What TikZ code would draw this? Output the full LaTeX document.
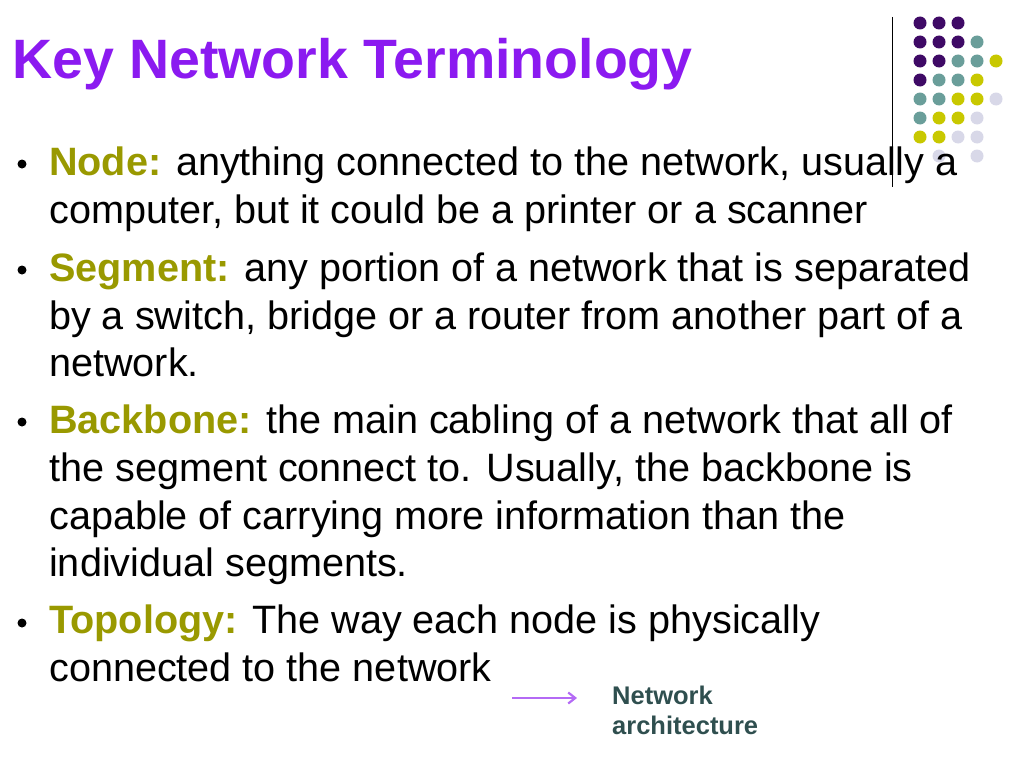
\documentclass[tikz,border=0pt]{standalone}
\usepackage{fontspec}
\setmainfont{Liberation Sans}
\usetikzlibrary{arrows.meta}
\definecolor{titlepurple}{HTML}{8B1AF0}
\definecolor{termolive}{HTML}{999900}
\definecolor{dotP}{HTML}{3F0A66}
\definecolor{dotT}{HTML}{6A9E9A}
\definecolor{dotY}{HTML}{C8C800}
\definecolor{dotL}{HTML}{D8D8E8}
\definecolor{notegray}{HTML}{2F4F4F}
\tikzset{
  body/.style={anchor=base west, inner sep=0pt, font=\fontsize{39.6}{44}\selectfont},
  bullet/.style={circle, fill=black, inner sep=0pt, minimum size=9pt},
  note/.style={anchor=base west, inner sep=0pt, text=notegray, font=\bfseries\fontsize{25.5}{30}\selectfont}
}
\newcommand\trm[1]{\textcolor{termolive}{\bfseries #1}}
\begin{document}
\begin{tikzpicture}[x=1pt,y=-1pt]
\useasboundingbox (0,0) rectangle (1024,768);
% title
\node[anchor=base west, inner sep=0pt, text=titlepurple, font=\bfseries\fontsize{55.5}{60}\selectfont] (title) at (12,78) {Key Network Terminology};

% dots and rule
\draw[thin] (892,17) -- (892,187);
\foreach \row/\cols in {0/{P,P,P},1/{P,P,P,T},2/{P,P,T,T,Y},3/{P,T,T,Y},4/{T,T,Y,Y,L},5/{T,Y,Y,L},6/{Y,Y,L,L}}{
  \foreach \c [count=\i from 0] in \cols
    \fill[dot\c] (920+19*\i, 23+19*\row) circle (6.5);
}
\fill[dotL] (939,156) circle (6.5);
\fill[dotL] (977,156) circle (6.5);

% bullets
\foreach \y/\n in {164/b1,270/b2,422/b3,623/b4}
  \node[bullet] (\n) at (22,\y) {};

% text lines
\node[body] (l1) at (49,175) {\trm{Node:} anything connected to the network, usually a};
\node[body] (l2) at (49,223) {computer, but it could be a printer or a scanner};
\node[body] (l3) at (49,281) {\trm{Segment:} any portion of a network that is separated};
\node[body] (l4) at (49,329) {by a switch, bridge or a router from another part of a};
\node[body] (l5) at (49,376) {network.};
\node[body] (l6) at (49,433) {\trm{Backbone:} the main cabling of a network that all of};
\node[body] (l7) at (49,481) {the segment connect to. Usually, the backbone is};
\node[body] (l8) at (49,529) {capable of carrying more information than the};
\node[body] (l9) at (49,576) {individual segments.};
\node[body] (l10) at (49,633) {\trm{Topology:} The way each node is physically};
\node[body] (l11) at (49,681) {connected to the network};

% note
\coordinate (a0) at (512,698);
\coordinate (a1) at (577,698);
\draw[-{Straight Barb[length=7pt,width=11pt]}, line width=2.2pt, color=titlepurple!65] (a0) -- (a1);
\node[note] (n1) at (612,704) {Network};
\node[note] (n2) at (612,734) {architecture};
\end{tikzpicture}
\end{document}
